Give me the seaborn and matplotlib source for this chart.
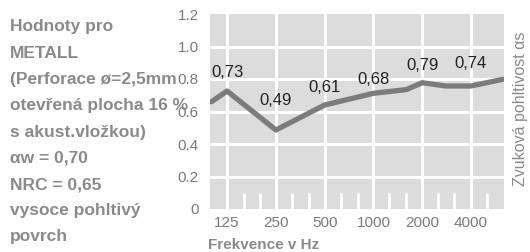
import numpy as np
import pandas as pd
import matplotlib
matplotlib.use("Agg")
import matplotlib.pyplot as plt
import seaborn as sns

# data
freq = [100, 125, 250, 500, 1000, 1600, 2000, 2800, 4000, 6300]
alpha = [0.66, 0.726, 0.486, 0.64, 0.712, 0.735, 0.777, 0.757, 0.757, 0.798]

octave_ticks = [125, 250, 500, 1000, 2000, 4000]
value_labels = ["0,73", "0,49", "0,61", "0,68", "0,79", "0,74"]
third_octaves = [160, 200, 315, 400, 630, 800, 1250, 1600, 2500, 3150, 5000]

info_lines = ["Hodnoty pro", "METALL", "(Perforace ø=2,5mm", "otevřená plocha 16 %",
              "s akust.vložkou)", "αw = 0,70", "NRC = 0,65", "vysoce pohltivý", "povrch"]

# label heights (layout only)
label_y = [0.843, 0.67, 0.745, 0.794, 0.886, 0.898]

df = pd.DataFrame({"freq": freq, "alpha": alpha})

sns.set_style("white", {"axes.facecolor": "#dcdcdc"})
plt.rcParams['font.family'] = ['Liberation Sans', 'DejaVu Sans']

fig = plt.figure(figsize=(5.3, 2.52), dpi=100)

# left description, drawn first so the axes sit on top of the overflow
for i, line in enumerate(info_lines):
    fig.text(10 / 530, 1 - (27 + i * 26.25) / 252, line, ha="left", va="center",
             fontsize=12.5, color="#8a8a8a", fontweight="bold")

ax = fig.add_axes([210 / 530, 1 - 209 / 252, 294 / 530, 195 / 252])

# white grid
for y in [0.2, 0.4, 0.6, 0.8, 1.0]:
    ax.axhline(y, color="white", lw=2.2, zorder=1)
for f in octave_ticks:
    ax.axvline(f, color="white", lw=2.2, zorder=1)
ax.vlines(third_octaves, 0, 0.1, color="white", lw=2.0, zorder=1)

sns.lineplot(data=df, x="freq", y="alpha", ax=ax, color="#7c7c7c", lw=3.8, zorder=3)

for f, txt, y in zip(octave_ticks, value_labels, label_y):
    ax.text(f, y, txt, ha="center", va="center", fontsize=12, color="#222222", zorder=4)

ax.set_xscale("log", base=2)
ax.set_xlim(98, 6400)
ax.set_ylim(0, 1.2)
ax.set_xticks(octave_ticks)
ax.set_xticklabels([str(f) for f in octave_ticks])
ax.minorticks_off()
ax.set_yticks([0, 0.2, 0.4, 0.6, 0.8, 1.0, 1.2])
ax.set_yticklabels(["0", "0.2", "0.4", "0.6", "0.8", "1.0", "1.2"])
ax.tick_params(axis="both", length=0, labelsize=11, labelcolor="#7a7a7a")
ax.tick_params(axis="x", pad=5)
ax.tick_params(axis="y", pad=8)
ax.set_xlabel("")
ax.set_ylabel("")
sns.despine(ax=ax, left=True, bottom=True)

fig.text(208 / 530, 1 - 245 / 252, "Frekvence v Hz", ha="left", va="center",
         fontsize=11, color="#8a8a8a", fontweight="bold")
fig.text(520 / 530, 1 - 109 / 252, "Zvuková pohltivost αs", rotation=90,
         ha="center", va="center", fontsize=11.5, color="#8a8a8a")

fig.savefig("out.png", dpi=100)
